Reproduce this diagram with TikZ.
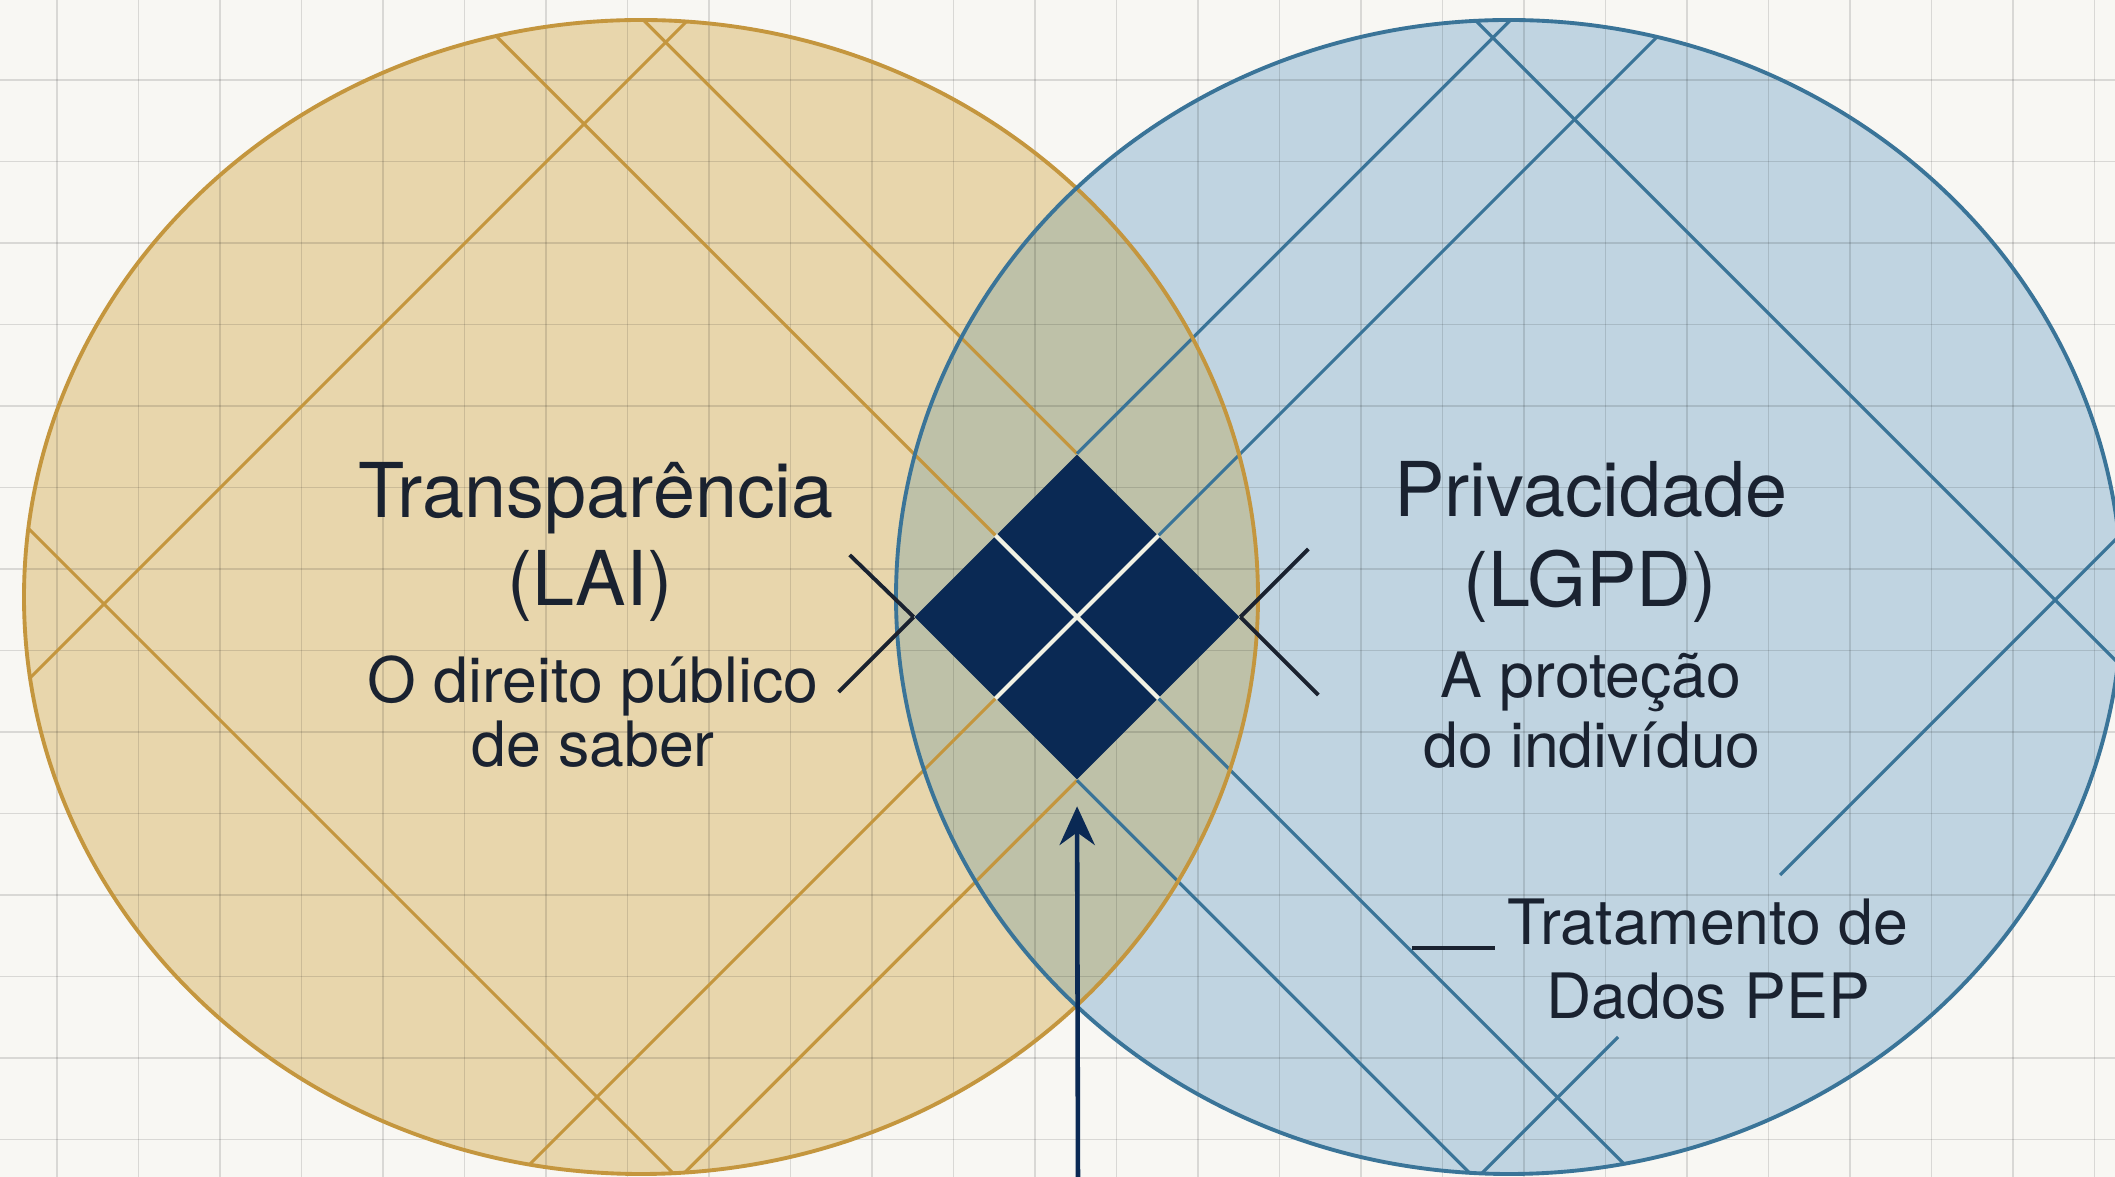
\documentclass[tikz,border=0pt]{standalone}
\usepackage{fontspec}
\setmainfont{TeX Gyre Heros}
\usetikzlibrary{shapes.geometric,arrows.meta}

\definecolor{papel}{RGB}{248,247,243}
\definecolor{areia}{RGB}{232,214,172}
\definecolor{ceu}{RGB}{192,212,225}
\definecolor{oliva}{RGB}{190,193,168}
\definecolor{ouro}{RGB}{196,150,62}
\definecolor{azul}{RGB}{58,116,152}
\definecolor{marinho}{RGB}{10,41,84}
\definecolor{tinta}{RGB}{26,34,48}
\definecolor{creme}{RGB}{242,242,228}

\tikzset{
  goldline/.style={ouro,line width=0.9pt},
  blueline/.style={azul,line width=0.9pt},
  pointer/.style={tinta,line width=1.1pt},
  gridline/.style={black,opacity=0.12,line width=0.5pt},
  titulo/.style={anchor=base,text=tinta,font=\fontsize{21.5}{25}\selectfont},
  sub/.style={anchor=base,text=tinta,font=\fontsize{17.8}{20}\selectfont},
}

\begin{document}
\begin{tikzpicture}[x=0.01cm,y=-0.01cm,>={Stealth[length=11pt,width=10pt]}]
	\useasboundingbox (0,0) rectangle (2115,1177);
	\clip (0,0) rectangle (2115,1177);
	\fill[papel] (0,0) rectangle (2115,1177);
	% the two sets
	\fill[areia] (641,597) ellipse [x radius=617,y radius=577];
	\fill[ceu] (1509,597) ellipse [x radius=613,y radius=577];
	\begin{scope}
		\clip (641,597) ellipse [x radius=617,y radius=577];
		\fill[oliva] (1509,597) ellipse [x radius=613,y radius=577];
	\end{scope}
	% paper grid
	\foreach \x in {0,...,25}\draw[gridline] ({57+81.5*\x},0)--({57+81.5*\x},1177);
	\foreach \y in {0,...,13}\draw[gridline] (0,{80+81.5*\y})--(2115,{80+81.5*\y});
	% core
	\node[diamond,fill=marinho,minimum width=3.25cm,minimum height=3.25cm,inner sep=0pt] (nucleo) at (1077,617) {};
	\draw[creme,line width=1.2pt] (nucleo.north west)--(nucleo.south east) (nucleo.north east)--(nucleo.south west);
	% golden lines
	\begin{scope}
		\clip (641,597) ellipse [x radius=617,y radius=577];
		\draw[goldline] (nucleo.north west)--++(-700,-700);
		\draw[goldline] (nucleo.north)--++(-600,-600);
		\draw[goldline] (nucleo.south west)--++(-700,700);
		\draw[goldline] (nucleo.south)--++(-600,600);
		\draw[goldline] (760,-52)--(-60,768);
		\draw[goldline] (-60,440)--(760,1260);
	\end{scope}
	% blue lines
	\begin{scope}
		\clip (1509,597) ellipse [x radius=613,y radius=577];
		\draw[blueline] (nucleo.south east)--++(700,700);
		\draw[blueline] (nucleo.north east)--++(700,-700);
		\draw[blueline] (nucleo.north)--++(600,-600);
		\draw[blueline] (nucleo.south)--++(600,600);
		\draw[blueline] (1420,-35)--(2200,745);
		\draw[blueline] (2250,405)--(1780,875);
		\draw[blueline] (1618,1037)--(1380,1275);
	\end{scope}
	\draw[ouro,line width=1.1pt] (641,597) ellipse [x radius=617,y radius=577];
	\draw[azul,line width=1.1pt] (1509,597) ellipse [x radius=613,y radius=577];
	\draw[pointer] (nucleo.west)--++(-64,-62) (nucleo.west)--++(-75,75) (nucleo.east)--++(68,-68) (nucleo.east)--++(78,78);
	% labels
	\node[titulo] (transp) at (596,518) {Transparência};
	\node[titulo] (lai) at (590,606) {(LAI)};
	\node[sub] (direito) at (593,703) {O direito público};
	\node[sub] (saber) at (593,767) {de saber};
	\node[titulo] (priv) at (1591,517) {Privacidade};
	\node[titulo] (lgpd) at (1590,607) {(LGPD)};
	\node[sub] (protecao) at (1591,698) {A proteção};
	\node[sub] (individuo) at (1592,768) {do indivíduo};
	\node[sub] (tratamento) at (1708,945) {Tratamento de};
	\node[sub] (dados) at (1708,1019) {Dados PEP};
	\coordinate (pepalvo) at (1412,948);
	\draw[pointer] (pepalvo)--(pepalvo -| tratamento.west);
	\coordinate (base) at (1078,1190);
	\draw[->,marinho,line width=1.3pt,shorten >=0.26cm] (base)--(nucleo.south);
\end{tikzpicture}
\end{document}
